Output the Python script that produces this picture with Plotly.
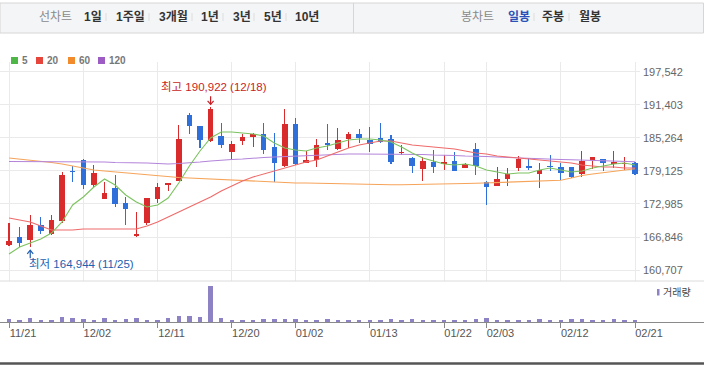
import plotly.graph_objects as go

# ---------------- data ----------------
dates = ["11/21", "11/22", "11/25", "11/26", "11/27", "11/28", "11/29",
         "12/02", "12/03", "12/04", "12/05", "12/06", "12/09", "12/10", "12/11", "12/12", "12/13",
         "12/16", "12/17", "12/18", "12/19", "12/20", "12/23", "12/24", "12/26", "12/27", "12/30",
         "01/02", "01/03", "01/06", "01/07", "01/08", "01/09", "01/10", "01/13", "01/14", "01/15",
         "01/16", "01/17", "01/20", "01/21", "01/22", "01/23", "01/24", "01/31",
         "02/03", "02/04", "02/05", "02/06", "02/07", "02/10", "02/11", "02/12", "02/13", "02/14",
         "02/17", "02/18", "02/19", "02/20", "02/21"]

opens = [165300, 166910, 166300, 169080, 167360, 169880, 179120, 181150, 176510, 173910,
         175900, 173110, 167130, 169510, 173910, 176510, 177310, 189500, 187460, 184680,
         185600, 182690, 184730, 185360, 185980, 183620, 180090, 187830, 180650, 181150,
         184360, 183190, 184990, 185920, 184860, 185180, 184990, 182390, 181470, 179420,
         180830, 180350, 180960, 179720, 183190, 177120, 176380, 177620, 179720, 180040,
         178490, 180040, 179790, 179790, 178490, 181150, 181280, 180410, 180350, 180540]
highs = [169450, 168770, 170940, 170620, 170940, 178980, 180040, 181280, 180220, 177120,
         178360, 174340, 171440, 174150, 176820, 176820, 187650, 189820, 187460, 190922,
         187960, 184680, 185920, 186220, 187960, 186110, 190560, 188890, 182820, 184990,
         187830, 187150, 186400, 186900, 187220, 187960, 185790, 183930, 181650, 181650,
         183010, 182080, 182690, 180540, 184360, 177250, 179790, 179610, 181890, 181470,
         180540, 182080, 180650, 179910, 182880, 181650, 181280, 182820, 181650, 180830]
lows = [165100, 165050, 164944, 167410, 167230, 169400, 177120, 175710, 175900, 173850,
        172480, 169080, 166920, 169080, 173110, 175450, 177250, 185980, 183430, 184550,
        183320, 181280, 183930, 183620, 182210, 177010, 179910, 180220, 180540, 179910,
        183010, 183010, 183320, 184360, 182690, 184250, 180350, 182080, 178680, 177310,
        178790, 179290, 179110, 179610, 178360, 172800, 176380, 176380, 179110, 179290,
        176010, 179160, 177440, 177750, 177940, 179420, 179160, 179720, 179290, 178360]
closes = [166100, 165800, 169080, 167970, 170010, 178360, 178830, 176510, 178790, 174970,
          172920, 172050, 167500, 174040, 176080, 176820, 184990, 187520, 184860, 190620,
          183930, 184060, 185360, 185980, 183010, 180540, 187830, 180350, 181150, 183930,
          183930, 184860, 185920, 185290, 184060, 184550, 180830, 182690, 180090, 180960,
          179910, 180830, 179160, 180410, 180040, 176190, 177570, 178550, 181280, 179720,
          179290, 179790, 178790, 178050, 181020, 181650, 180540, 180830, 180650, 178490]

ma5 = [163698, 164997, 165740, 166482, 167596, 169639, 172795, 174280, 176137, 177623,
       176509, 174652, 173352, 172424, 172795, 174094, 176879, 180035, 182820, 185233,
       186347, 186347, 186161, 185976, 185604, 184304, 183376, 183006, 182820, 183376,
       183748, 184304, 184862, 185047, 185047, 184862, 184490, 183562, 182448, 181520,
       180964, 180406, 180221, 180406, 180035, 179293, 178922, 178550, 178736, 178736,
       179293, 179664, 179293, 178922, 179107, 179664, 180035, 180406, 180592, 180221]
ma20 = [170381, 170010, 169639, 168896, 168154, 168154, 168154, 168339, 168339, 168339,
        168339, 168339, 168339, 168896, 169639, 170567, 171495, 172424, 173352, 174280,
        175394, 176324, 177250, 177993, 178550, 179107, 179664, 180221, 180778, 181149,
        181891, 182634, 183376, 183934, 184304, 184676, 184676, 184304, 183934, 183748,
        183562, 183376, 183191, 182820, 182448, 182263, 181891, 181706, 181520, 181335,
        181149, 180964, 180778, 180592, 180221, 180035, 179850, 179850, 179664, 179664]
ma60 = [181520, 181335, 181149, 180964, 180685, 180407, 180035, 179664, 179293, 179107,
        178921, 178736, 178550, 178364, 178179, 177993, 177900, 177807, 177714, 177621,
        177436, 177343, 177250, 177157, 177065, 177065, 176972, 176879, 176879, 176823,
        176786, 176730, 176693, 176637, 176600, 176563, 176544, 176544, 176563, 176600,
        176637, 176693, 176730, 176786, 176823, 176879, 176935, 177009, 177065, 177121,
        177195, 177250, 177381, 177808, 178272, 178550, 178829, 179107, 179293, 179534]
ma120 = [180870, 180870, 180870, 180870, 180870, 180870, 180870, 180870, 180778, 180778,
         180685, 180685, 180592, 180592, 180499, 180407, 180499, 180592, 180778, 180964,
         181149, 181242, 181335, 181520, 181613, 181706, 181799, 181892, 181985, 182077,
         182077, 182170, 182263, 182263, 182263, 182263, 182263, 182263, 182263, 182170,
         182077, 182077, 181985, 181892, 181892, 181799, 181706, 181613, 181520, 181428,
         181335, 181279, 181242, 181205, 181149, 181094, 181020, 180964, 180909, 180835]

volume = [30, 23, 40, 23, 23, 50, 40, 30, 23, 40,
          23, 30, 40, 23, 23, 40, 63, 63, 50, 360,
          40, 23, 23, 23, 30, 30, 30, 30, 23, 23,
          30, 23, 23, 23, 23, 23, 30, 23, 30, 23,
          23, 23, 23, 23, 30, 40, 23, 23, 23, 23,
          30, 23, 23, 30, 30, 23, 23, 30, 23, 23]

tick_labels = ["11/21", "12/02", "12/11", "12/20", "01/02", "01/13", "01/22", "02/03", "02/12", "02/21"]
price_ticks = [160707, 166846, 172985, 179125, 185264, 191403, 197542]
ma_names = ["5", "20", "60", "120"]

high_val, high_date = 190922, "12/18"
low_val, low_date = 164944, "11/25"

# ---------------- styling ----------------
UP = "#d92b2b"
DOWN = "#2f6fd9"
MA_LINE = ["#7cc35f", "#ef6a6a", "#f6a45a", "#b384da"]
MA_KEY = ["#4fb748", "#e6453b", "#f28b2c", "#9d5cc4"]
VOL = "#8c82c4"
HI_C = "#c81e24"
LO_C = "#2160b0"
FONT = "Liberation Sans, Noto Sans CJK KR, sans-serif"

W, H = 704, 366
PL, PR, PT, PB = 0, 640, 62, 322


def xp(px):
    return (px - PL) / (PR - PL)


def yp(py):
    return (PB - py) / (PB - PT)


idx = list(range(len(dates)))
tick_idx = [dates.index(t) for t in tick_labels]
cols = [UP if c >= o else DOWN for o, c in zip(opens, closes)]

fig = go.Figure()
# wicks
fig.add_trace(go.Bar(x=idx, base=lows, y=[h - l for h, l in zip(highs, lows)], width=0.1,
                     marker=dict(color=cols, line=dict(width=0)), hoverinfo="skip",
                     xaxis="x", yaxis="y"))
# bodies
fig.add_trace(go.Bar(x=idx, base=[min(o, c) for o, c in zip(opens, closes)],
                     y=[max(abs(c - o), 280) for o, c in zip(opens, closes)], width=0.52,
                     marker=dict(color=cols, line=dict(width=0)), hoverinfo="skip",
                     xaxis="x", yaxis="y"))
for ser, col in zip([ma60, ma120, ma20, ma5], [MA_LINE[2], MA_LINE[3], MA_LINE[1], MA_LINE[0]]):
    fig.add_trace(go.Scatter(x=idx, y=ser, mode="lines", line=dict(color=col, width=1.1),
                             hoverinfo="skip", xaxis="x", yaxis="y"))
# volume
fig.add_trace(go.Bar(x=idx, y=volume, width=0.42, marker=dict(color=VOL, line=dict(width=0)),
                     hoverinfo="skip", xaxis="x2", yaxis="y2"))

main_bottom = yp(281)
fig.update_layout(
    width=W, height=H,
    margin=dict(l=PL, r=W - PR, t=PT, b=H - PB, autoexpand=False),
    paper_bgcolor="white", plot_bgcolor="white",
    showlegend=False, barmode="overlay", bargap=0,
    font=dict(family=FONT),
    xaxis=dict(domain=[0, 1], range=[-0.85, 59.47], anchor="y", tickvals=tick_idx,
               showticklabels=False, showgrid=True, gridcolor="#eaeaea", gridwidth=1,
               zeroline=False, ticks="", fixedrange=True, automargin=False),
    xaxis2=dict(domain=[0, 1], matches="x", anchor="y2", tickvals=tick_idx, ticktext=tick_labels,
                showgrid=False, zeroline=False, ticks="outside", ticklen=5, tickcolor="#888",
                tickfont=dict(size=11, color="#555", family=FONT), ticklabelshift=14,
                ticklabelstandoff=-4, fixedrange=True, automargin=False),
    yaxis=dict(domain=[main_bottom, 1], range=[158686, 199343], side="right",
               tickvals=price_ticks, ticktext=[f"{v:,}" for v in price_ticks],
               showgrid=True, gridcolor="#eaeaea", zeroline=False, ticks="",
               tickfont=dict(size=11, color="#666", family=FONT), fixedrange=True,
               automargin=False, ticklabelstandoff=2),
    yaxis2=dict(domain=[0, main_bottom], range=[0, 410], visible=False, fixedrange=True,
                automargin=False),
)

shapes = []
annots = []
# top toolbar
shapes.append(dict(type="rect", xref="paper", yref="paper", x0=xp(0), x1=xp(703.5), y0=yp(33), y1=yp(3),
                   fillcolor="#f4f5f7", line=dict(color="#d6d6d6", width=1), layer="below"))
shapes.append(dict(type="line", xref="paper", yref="paper", x0=xp(353.5), x1=xp(353.5), y0=yp(33), y1=yp(3),
                   line=dict(color="#d6d6d6", width=1)))
left_items = [("선차트", 37, False), ("1일", 82, True), ("1주일", 114, True), ("3개월", 157, True),
              ("1년", 199, True), ("3년", 231, True), ("5년", 262, True), ("10년", 293, True)]
right_items = [("봉차트", 459, False), ("일봉", 506, True), ("주봉", 540, True), ("월봉", 577, True)]
for items in (left_items, right_items):
    for t, x, b in items:
        color = "#8a8a8a" if not b else "#333333"
        if t == "일봉":
            color = "#2a52b8"
        annots.append(dict(xref="paper", yref="paper", x=xp(x), y=yp(17), xanchor="left", yanchor="middle",
                           text=f"<b>{t}</b>" if b else t, showarrow=False,
                           font=dict(size=12, color=color, family=FONT)))
for sx in [106, 149, 192, 223, 254, 286, 534, 569]:
    shapes.append(dict(type="line", xref="paper", yref="paper", x0=xp(sx), x1=xp(sx), y0=yp(21), y1=yp(13),
                       line=dict(color="#dddddd", width=1)))

# MA legend
key_x = [11, 36, 68, 98]
for name, kx, kc in zip(ma_names, key_x, MA_KEY):
    shapes.append(dict(type="rect", xref="paper", yref="paper", x0=xp(kx), x1=xp(kx + 7), y0=yp(64), y1=yp(57),
                       fillcolor=kc, line=dict(width=0)))
    annots.append(dict(xref="paper", yref="paper", x=xp(kx + 9), y=yp(60.7), xanchor="left", yanchor="middle",
                       text=f"<b>{name}</b>", showarrow=False, font=dict(size=10, color="#777", family=FONT)))

# panel lines
shapes.append(dict(type="line", xref="paper", yref="paper", x0=xp(0), x1=xp(704), y0=yp(281), y1=yp(281),
                   line=dict(color="#dcdcdc", width=1)))
shapes.append(dict(type="line", xref="paper", yref="paper", x0=xp(0), x1=xp(704), y0=yp(322.5), y1=yp(322.5),
                   line=dict(color="#8a8a8a", width=1)))
shapes.append(dict(type="line", xref="paper", yref="paper", x0=xp(0), x1=xp(704), y0=yp(363.5), y1=yp(363.5),
                   line=dict(color="#555555", width=2.5)))

# volume key
shapes.append(dict(type="rect", xref="paper", yref="paper", x0=xp(657), x1=xp(659.5), y0=yp(295.5), y1=yp(289),
                   fillcolor=VOL, line=dict(width=0)))
annots.append(dict(xref="paper", yref="paper", x=xp(661), y=yp(292.5), xanchor="left", yanchor="middle",
                   text="거래량", showarrow=False, font=dict(size=10, color="#444", family=FONT)))

# high / low markers
hi_i = dates.index(high_date)
lo_i = dates.index(low_date)
annots.append(dict(xref="x", yref="y", x=hi_i, y=high_val, xanchor="left", yanchor="middle",
                   xshift=-52, yshift=20, text=f"최고 {high_val:,} ({high_date})", showarrow=False,
                   font=dict(size=11.5, color=HI_C, family=FONT)))
annots.append(dict(xref="x", yref="y", x=lo_i, y=low_val, xanchor="left", yanchor="middle",
                   xshift=-3.5, yshift=-17, text=f"최저 {low_val:,} ({low_date})", showarrow=False,
                   font=dict(size=11.5, color=LO_C, family=FONT)))
# arrows drawn as small shapes anchored to the high / low points
for xi, val, col, sgn in [(hi_i, high_val, HI_C, 1), (lo_i, low_val, LO_C, -1)]:
    shapes.append(dict(type="line", xref="x", yref="y", xsizemode="pixel", ysizemode="pixel",
                       xanchor=xi, yanchor=val, x0=0, x1=0, y0=sgn * 3, y1=sgn * 11,
                       line=dict(color=col, width=1.2)))
    shapes.append(dict(type="path", xref="x", yref="y", xsizemode="pixel", ysizemode="pixel",
                       xanchor=xi, yanchor=val,
                       path=f"M-3,{sgn * 6.5} L0,{sgn * 3} L3,{sgn * 6.5}",
                       line=dict(color=col, width=1.2)))

fig.update_layout(shapes=shapes, annotations=annots)
fig.write_html("out.html", config={"displayModeBar": False, "staticPlot": True},
               post_script="document.body.style.margin='0';document.body.style.overflow='hidden';")
